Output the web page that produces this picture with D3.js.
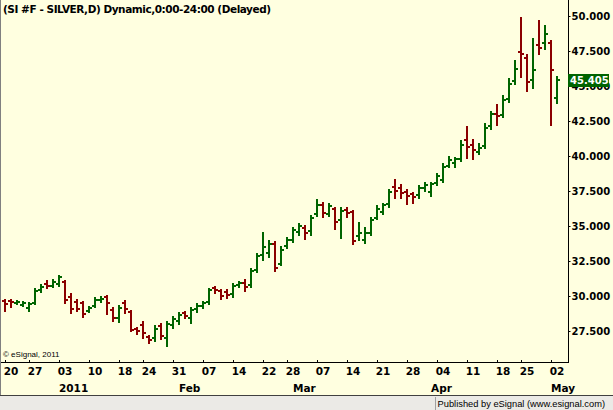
<!DOCTYPE html>
<html lang="en">
<head>
<meta charset="UTF-8">
<title>SI #F - SILVER</title>
<style>
  body { margin: 0; background: #ffffe0; }
  svg { display: block; font-family: "DejaVu Sans", Verdana, sans-serif; }
</style>
</head>
<body>
<svg id="chart"></svg>
<script src="https://d3js.org/d3.v7.min.js"></script>
<script>
// daily bars, Dec 17 2010 - May 2 2011
var dates = [
  '2010-12-17','2010-12-20','2010-12-21','2010-12-22','2010-12-23',
  '2010-12-27','2010-12-28','2010-12-29','2010-12-30','2010-12-31',
  '2011-01-03','2011-01-04','2011-01-05','2011-01-06','2011-01-07',
  '2011-01-10','2011-01-11','2011-01-12','2011-01-13','2011-01-14',
  '2011-01-18','2011-01-19','2011-01-20','2011-01-21',
  '2011-01-24','2011-01-25','2011-01-26','2011-01-27','2011-01-28',
  '2011-01-31','2011-02-01','2011-02-02','2011-02-03','2011-02-04',
  '2011-02-07','2011-02-08','2011-02-09','2011-02-10','2011-02-11',
  '2011-02-14','2011-02-15','2011-02-16','2011-02-17','2011-02-18',
  '2011-02-22','2011-02-23','2011-02-24','2011-02-25',
  '2011-02-28','2011-03-01','2011-03-02','2011-03-03','2011-03-04',
  '2011-03-07','2011-03-08','2011-03-09','2011-03-10','2011-03-11',
  '2011-03-14','2011-03-15','2011-03-16','2011-03-17','2011-03-18',
  '2011-03-21','2011-03-22','2011-03-23','2011-03-24','2011-03-25',
  '2011-03-28','2011-03-29','2011-03-30','2011-03-31','2011-04-01',
  '2011-04-04','2011-04-05','2011-04-06','2011-04-07','2011-04-08',
  '2011-04-11','2011-04-12','2011-04-13','2011-04-14','2011-04-15',
  '2011-04-18','2011-04-19','2011-04-20','2011-04-21',
  '2011-04-25','2011-04-26','2011-04-27','2011-04-28','2011-04-29',
  '2011-05-02'
];
var open = [
  29.64,29.64,29.50,29.36,29.14, 29.50,30.43,30.86,30.71,30.86,
  31.00,29.93,29.57,29.50,28.93, 29.29,29.71,29.93,29.00,28.43,
  29.50,28.86,27.64,27.93, 27.07,27.00,27.86,27.00,27.93,
  28.21,28.79,28.43,29.07,29.29, 29.57,30.57,30.36,30.29,30.14,
  30.79,30.93,30.79,31.86,32.93, 33.07,33.71,32.29,33.57,
  34.00,34.57,34.86,34.64,35.86, 36.50,35.86,36.21,35.43,36.14,
  36.00,34.29,34.00,34.50,35.57, 36.00,36.57,37.79,37.71,37.43,
  37.29,37.21,37.71,37.43,38.07, 38.29,39.29,39.50,39.79,41.14,
  40.79,40.29,40.71,42.14,43.00, 42.93,44.07,45.36,47.43,
  47.00,45.43,47.93,48.07,48.07, 44.14
];
var high = [
  29.71,29.71,29.64,29.57,29.50, 30.50,30.79,31.07,31.14,31.43,
  31.07,30.14,29.71,29.57,29.21, 29.86,29.93,30.00,29.14,29.29,
  29.64,28.93,27.71,28.14, 27.14,27.86,28.00,28.14,28.50,
  28.79,28.86,29.14,29.43,29.57, 30.50,30.64,30.43,30.43,30.86,
  31.00,31.14,31.93,33.00,34.50, 33.93,33.86,33.50,34.14,
  34.86,35.14,35.00,35.71,36.86, 36.64,36.57,36.29,36.29,36.29,
  36.07,35.21,34.86,35.57,36.43, 36.57,37.57,38.29,37.93,37.57,
  37.36,37.86,38.07,38.07,38.71, 39.43,39.93,39.86,41.07,42.07,
  41.14,40.86,42.29,43.14,43.64, 44.29,45.50,46.79,49.86,
  47.21,48.36,49.64,49.29,48.21, 45.64
];
var low = [
  28.93,29.21,29.43,29.29,28.93, 29.43,30.29,30.57,30.64,30.71,
  29.50,28.79,28.93,28.50,28.86, 29.21,29.57,28.71,28.21,28.14,
  28.79,27.50,27.29,27.00, 26.64,26.79,26.93,26.43,27.71,
  28.00,28.43,28.07,28.86,29.14, 29.43,30.21,29.79,29.86,29.93,
  30.64,30.36,30.64,31.71,32.57, 32.79,31.79,32.21,33.43,
  33.86,34.36,34.07,34.36,35.71, 35.64,35.71,34.79,34.14,35.64,
  33.71,34.00,33.79,34.36,35.50, 35.86,36.36,37.00,37.00,36.57,
  36.64,37.00,37.50,37.14,37.93, 38.14,39.21,39.21,39.64,39.86,
  39.79,40.14,40.57,41.93,42.21, 42.79,43.86,45.14,45.64,
  44.64,44.86,47.29,47.64,42.21, 43.79
];
var close = [
  29.43,29.57,29.57,29.50,29.43, 30.36,30.64,30.71,31.00,31.36,
  29.71,29.07,29.07,28.71,29.14, 29.71,29.79,29.50,28.43,29.14,
  29.07,27.57,27.50,27.36, 26.86,27.64,27.14,28.00,28.36,
  28.64,28.57,29.00,29.29,29.50, 30.43,30.43,30.00,30.07,30.71,
  30.93,30.64,31.79,32.86,33.50, 33.71,32.00,33.29,34.00,
  34.71,35.00,34.50,35.57,36.50, 35.93,36.43,35.29,36.07,35.93,
  33.93,34.50,34.50,35.43,36.21, 36.50,37.43,37.50,37.36,37.14,
  37.07,37.71,37.93,38.00,38.57, 39.21,39.71,39.79,40.79,40.64,
  40.43,40.57,42.00,43.00,42.86, 44.00,45.14,46.21,47.29,
  45.29,46.14,47.71,48.71,46.14, 45.405
];

var priceTicks = [27.5, 30, 32.5, 35, 37.5, 40, 42.5, 45, 47.5, 50];
var dayTicks = ['2010-12-20','2010-12-27','2011-01-03','2011-01-10','2011-01-18',
  '2011-01-24','2011-01-31','2011-02-07','2011-02-14','2011-02-22','2011-02-28',
  '2011-03-07','2011-03-14','2011-03-21','2011-03-28','2011-04-04','2011-04-11',
  '2011-04-18','2011-04-25','2011-05-02'];
var monthNames = ['2011', 'Feb', 'Mar', 'Apr', 'May'];
var monthStarts = ['2011-01-03', '2011-02-01', '2011-03-01', '2011-04-01', '2011-05-02'];
var lastPrice = 45.405;

var width = 613, height = 410;
var axisX = 568, axisY = 362;
var upColor = '#006400', downColor = '#8b0000';
var sans = '"Liberation Sans", Arial, sans-serif';

var svg = d3.select('#chart')
  .attr('width', width)
  .attr('height', height);

svg.append('rect')
  .attr('width', width).attr('height', height)
  .attr('fill', '#ffffe0');

var x = d3.scalePoint().domain(dates).range([5, 557]);
var y = d3.scaleLinear().domain([27.5, 50]).range([331, 16]);

var bars = dates.map(function (d, i) {
  return { date: d, o: open[i], h: high[i], l: low[i], c: close[i] };
});

// OHLC bars
var g = svg.append('g').attr('shape-rendering', 'crispEdges');
var bar = g.selectAll('g.bar').data(bars).enter().append('g')
  .attr('class', 'bar')
  .attr('stroke', function (d) { return d.c >= d.o ? upColor : downColor; })
  .attr('stroke-width', 2);
bar.append('line')
  .attr('x1', function (d) { return x(d.date); })
  .attr('x2', function (d) { return x(d.date); })
  .attr('y1', function (d) { return Math.round(y(d.h)) - 1; })
  .attr('y2', function (d) { return Math.round(y(d.l)) + 1; });
bar.append('line')
  .attr('x1', function (d) { return x(d.date) - 3; })
  .attr('x2', function (d) { return x(d.date); })
  .attr('y1', function (d) { return Math.round(y(d.o)); })
  .attr('y2', function (d) { return Math.round(y(d.o)); });
bar.append('line')
  .attr('x1', function (d) { return x(d.date); })
  .attr('x2', function (d) { return x(d.date) + 3; })
  .attr('y1', function (d) { return Math.round(y(d.c)); })
  .attr('y2', function (d) { return Math.round(y(d.c)); });

// price axis on the right
var yAxis = d3.axisRight(y)
  .tickValues(priceTicks)
  .tickFormat(d3.format('.3f'))
  .tickSize(2)
  .tickPadding(1);
var ya = svg.append('g')
  .attr('transform', 'translate(' + (axisX + 0.5) + ',0)')
  .call(yAxis);
ya.select('.domain').remove();
ya.selectAll('text')
  .attr('font-family', '"DejaVu Sans", Verdana, sans-serif')
  .attr('font-size', '10px')
  .attr('font-weight', 'bold')
  .attr('fill', '#000');
svg.append('line')
  .attr('x1', axisX + 0.5).attr('x2', axisX + 0.5)
  .attr('y1', 0).attr('y2', axisY)
  .attr('stroke', '#000');

// last price marker
var ly = Math.round(y(lastPrice));
svg.append('rect')
  .attr('x', axisX).attr('y', ly - 6)
  .attr('width', 41).attr('height', 13)
  .attr('fill', upColor);
svg.append('text')
  .attr('x', axisX + 2).attr('y', ly + 4)
  .attr('font-size', '10px').attr('font-weight', 'bold')
  .attr('fill', '#fff')
  .text(d3.format('.3f')(lastPrice));

// date axis
svg.append('line')
  .attr('x1', 0).attr('x2', axisX + 1)
  .attr('y1', axisY + 0.5).attr('y2', axisY + 0.5)
  .attr('stroke', '#000');
svg.append('g').selectAll('line').data(dayTicks).enter().append('line')
  .attr('x1', function (d) { return x(d) - 5.5; })
  .attr('x2', function (d) { return x(d) - 5.5; })
  .attr('y1', axisY - 2).attr('y2', axisY)
  .attr('stroke', '#000');
svg.append('g').selectAll('text').data(dayTicks).enter().append('text')
  .attr('x', function (d) { return x(d); })
  .attr('y', 375)
  .attr('text-anchor', 'middle')
  .attr('font-size', '10.5px').attr('font-weight', 'bold')
  .text(function (d) { return d.slice(8); });
svg.append('g').selectAll('text').data(monthStarts).enter().append('text')
  .attr('x', function (d) { return x(d) - 6; })
  .attr('y', 392)
  .attr('font-size', '10.5px').attr('font-weight', 'bold')
  .text(function (d, i) { return monthNames[i]; });

// frame, credits, status strip
svg.append('line')
  .attr('x1', 0.5).attr('x2', 0.5).attr('y1', 0).attr('y2', 396)
  .attr('stroke', '#808080');
svg.append('text')
  .attr('x', 3).attr('y', 13)
  .attr('font-size', '10.5px').attr('font-weight', 'bold')
  .attr('letter-spacing', '-0.45px')
  .text('(SI #F - SILVER,D) Dynamic,0:00-24:00 (Delayed)');
svg.append('text')
  .attr('x', 3).attr('y', 357)
  .attr('font-family', sans)
  .attr('font-size', '8px')
  .text('\u00a9 eSignal, 2011');
svg.append('rect')
  .attr('x', 0).attr('y', 396).attr('width', width).attr('height', 14)
  .attr('fill', '#ebeae6');
svg.append('line')
  .attr('x1', 0).attr('x2', width).attr('y1', 395.5).attr('y2', 395.5)
  .attr('stroke', '#404040');
svg.append('line')
  .attr('x1', 435.5).attr('x2', 435.5).attr('y1', 397).attr('y2', 410)
  .attr('stroke', '#a0a0a0');
svg.append('text')
  .attr('x', 605).attr('y', 407)
  .attr('text-anchor', 'end')
  .attr('font-family', sans)
  .attr('font-size', '9.3px')
  .text('Published by eSignal (www.esignal.com)');
</script>
</body>
</html>
